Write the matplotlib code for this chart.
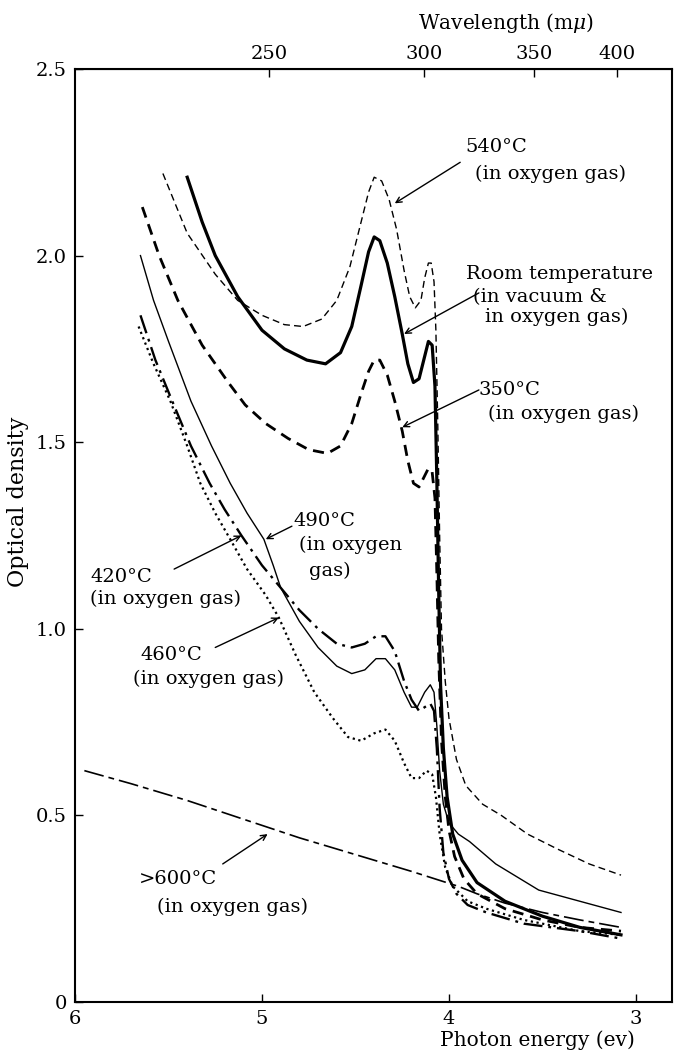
import matplotlib
matplotlib.use("Agg")
import matplotlib.pyplot as plt

plt.rcParams['font.family'] = ['DejaVu Serif']
plt.rcParams['mathtext.fontset'] = 'dejavuserif'

# Photon energy (ev) and optical density
e_540 = [5.53, 5.40, 5.25, 5.13, 5.00, 4.88, 4.78, 4.68, 4.60, 4.53, 4.47, 4.43, 4.40, 4.36,
         4.32, 4.28, 4.24, 4.21, 4.18, 4.15, 4.13, 4.11, 4.095, 4.08, 4.07, 4.06, 4.05, 4.04,
         4.02, 4.00, 3.96, 3.91, 3.82, 3.72, 3.58, 3.42, 3.25, 3.08]
od_540 = [2.22, 2.06, 1.95, 1.88, 1.84, 1.815, 1.81, 1.83, 1.88, 1.97, 2.09, 2.17, 2.21, 2.20,
          2.15, 2.07, 1.96, 1.89, 1.86, 1.88, 1.94, 1.98, 1.98, 1.93, 1.80, 1.55, 1.25, 1.00,
          0.86, 0.76, 0.65, 0.58, 0.53, 0.50, 0.45, 0.41, 0.37, 0.34]

e_room = [5.40, 5.32, 5.25, 5.13, 5.00, 4.88, 4.76, 4.66, 4.58, 4.52, 4.47, 4.43, 4.40, 4.37,
          4.33, 4.29, 4.25, 4.22, 4.19, 4.16, 4.13, 4.11, 4.09, 4.075, 4.065, 4.055, 4.045,
          4.03, 4.01, 3.98, 3.93, 3.85, 3.70, 3.50, 3.30, 3.08]
od_room = [2.21, 2.09, 2.00, 1.89, 1.80, 1.75, 1.72, 1.71, 1.74, 1.81, 1.92, 2.01, 2.05, 2.04,
           1.98, 1.89, 1.79, 1.71, 1.66, 1.67, 1.73, 1.77, 1.76, 1.65, 1.40, 1.10, 0.85,
           0.68, 0.55, 0.45, 0.38, 0.32, 0.27, 0.23, 0.20, 0.18]

e_350 = [5.64, 5.55, 5.45, 5.32, 5.18, 5.09, 4.98, 4.86, 4.75, 4.65, 4.58, 4.52, 4.47, 4.43,
         4.40, 4.37, 4.33, 4.29, 4.25, 4.22, 4.19, 4.16, 4.13, 4.11, 4.09, 4.075, 4.065, 4.055,
         4.04, 4.02, 4.00, 3.97, 3.92, 3.85, 3.70, 3.50, 3.30, 3.08]
od_350 = [2.13, 2.00, 1.88, 1.76, 1.66, 1.60, 1.55, 1.51, 1.48, 1.47, 1.49, 1.55, 1.63, 1.69,
          1.72, 1.72, 1.68, 1.61, 1.53, 1.45, 1.39, 1.38, 1.41, 1.43, 1.42, 1.35, 1.15, 0.92,
          0.70, 0.55, 0.46, 0.39, 0.33, 0.29, 0.25, 0.22, 0.20, 0.19]

e_490 = [5.65, 5.58, 5.50, 5.44, 5.38, 5.27, 5.17, 5.08, 4.99, 4.94, 4.90, 4.80, 4.70, 4.60,
         4.52, 4.45, 4.39, 4.34, 4.29, 4.24, 4.20, 4.17, 4.13, 4.10, 4.08, 4.065, 4.05, 4.03,
         4.00, 3.95, 3.89, 3.75, 3.52, 3.30, 3.08]
od_490 = [2.00, 1.88, 1.77, 1.69, 1.61, 1.49, 1.39, 1.31, 1.24, 1.17, 1.11, 1.02, 0.95, 0.90,
          0.88, 0.89, 0.92, 0.92, 0.89, 0.83, 0.79, 0.79, 0.83, 0.85, 0.83, 0.74, 0.62, 0.53,
          0.48, 0.45, 0.43, 0.37, 0.30, 0.27, 0.24]

e_420 = [5.65, 5.57, 5.48, 5.38, 5.28, 5.20, 5.11, 5.00, 4.90, 4.80, 4.70, 4.60, 4.52, 4.45,
         4.39, 4.34, 4.29, 4.24, 4.20, 4.16, 4.13, 4.10, 4.08, 4.065, 4.05, 4.03, 4.00, 3.96,
         3.90, 3.80, 3.60, 3.30, 3.08]
od_420 = [1.84, 1.72, 1.61, 1.49, 1.39, 1.32, 1.25, 1.17, 1.11, 1.05, 1.00, 0.96, 0.95, 0.96,
          0.98, 0.98, 0.94, 0.86, 0.81, 0.78, 0.79, 0.80, 0.78, 0.68, 0.52, 0.40, 0.33, 0.29,
          0.26, 0.24, 0.21, 0.19, 0.17]

e_460 = [5.66, 5.58, 5.49, 5.40, 5.33, 5.25, 5.17, 5.08, 4.98, 4.91, 4.82, 4.72, 4.62, 4.54,
         4.47, 4.40, 4.34, 4.29, 4.24, 4.20, 4.16, 4.12, 4.09, 4.07, 4.05, 4.02, 3.98, 3.90,
         3.80, 3.60, 3.30, 3.08]
od_460 = [1.81, 1.71, 1.61, 1.49, 1.39, 1.31, 1.24, 1.16, 1.09, 1.03, 0.93, 0.83, 0.76, 0.71,
          0.70, 0.72, 0.73, 0.70, 0.64, 0.60, 0.60, 0.62, 0.61, 0.55, 0.45, 0.36, 0.31, 0.27,
          0.25, 0.22, 0.19, 0.18]

e_600 = [5.95, 5.70, 5.40, 5.10, 4.80, 4.50, 4.20, 3.95, 3.85, 3.70, 3.50, 3.30, 3.08]
od_600 = [0.62, 0.585, 0.54, 0.49, 0.44, 0.395, 0.35, 0.31, 0.29, 0.265, 0.24, 0.22, 0.20]

energy_ticks = [6, 5, 4, 3]
od_ticks = [0, 0.5, 1.0, 1.5, 2.0, 2.5]
od_ticklabels = ["0", "0.5", "1.0", "1.5", "2.0", "2.5"]
wavelength_ticks = [250, 300, 350, 400]

fig = plt.figure(figsize=(6.74, 10.58), dpi=100)
ax = fig.add_axes([0.1113, 0.0529, 0.8858, 0.8819])

k = 'black'
ax.plot(e_540, od_540, color=k, lw=1.0, ls=(0, (5, 3)))
ax.plot(e_room, od_room, color=k, lw=2.3, ls='-')
ax.plot(e_350, od_350, color=k, lw=2.0, ls=(0, (4, 2.5)))
ax.plot(e_490, od_490, color=k, lw=1.0, ls='-')
ax.plot(e_420, od_420, color=k, lw=1.7, ls=(0, (8, 2.5, 1.2, 2.5)))
ax.plot(e_460, od_460, color=k, lw=1.6, ls=(0, (1, 1.6)))
ax.plot(e_600, od_600, color=k, lw=1.2, ls=(0, (12, 3, 3.5, 3)))

ax.set_xlim(6, 2.807)
ax.set_ylim(0, 2.5)
ax.set_xticks(energy_ticks)
ax.set_xticklabels([str(t) for t in energy_ticks])
ax.set_yticks(od_ticks)
ax.set_yticklabels(od_ticklabels)
ax.tick_params(direction='in', length=6, width=1.0, labelsize=14, pad=6)
for s in ax.spines.values():
    s.set_linewidth(1.5)

top = ax.secondary_xaxis('top', functions=(lambda e: 1240.0 / e, lambda w: 1240.0 / w))
top.set_xticks(wavelength_ticks)
top.tick_params(direction='in', length=6, width=1.0, labelsize=14, pad=4)

fig.text(0.751, 0.978, r'Wavelength (m$\mu$)', fontsize=14.5, ha='center', va='center')
fig.text(0.797, 0.017, 'Photon energy (ev)', fontsize=14.5, ha='center', va='center')
fig.text(0.027, 0.526, 'Optical density', fontsize=16, ha='center', va='center',
         rotation=90)

fs = 14
notes = [
    ("540°C", 3.91, 2.29), ("(in oxygen gas)", 3.86, 2.22),
    ("Room temperature", 3.91, 1.95), ("(in vacuum &", 3.87, 1.89), ("in oxygen gas)", 3.81, 1.835),
    ("350°C", 3.84, 1.64), ("(in oxygen gas)", 3.79, 1.575),
    ("490°C", 4.83, 1.29), ("(in oxygen", 4.80, 1.225), ("gas)", 4.75, 1.155),
    ("420°C", 5.92, 1.14), ("(in oxygen gas)", 5.92, 1.08),
    ("460°C", 5.65, 0.93), ("(in oxygen gas)", 5.69, 0.865),
    (">600°C", 5.66, 0.33), ("(in oxygen gas)", 5.56, 0.255),
]
for txt, x, y in notes:
    ax.text(x, y, txt, fontsize=fs, ha='left', va='center')

arrows = [
    ((3.94, 2.25), (4.29, 2.14)),
    ((3.84, 1.90), (4.24, 1.79)),
    ((3.84, 1.64), (4.25, 1.54)),
    ((4.84, 1.275), (4.98, 1.24)),
    ((5.47, 1.16), (5.11, 1.25)),
    ((5.25, 0.95), (4.91, 1.03)),
    ((5.21, 0.37), (4.97, 0.45)),
]
for start, tip in arrows:
    ax.annotate('', xy=tip, xytext=start,
                arrowprops=dict(arrowstyle='->', color=k, lw=1.0, shrinkA=0, shrinkB=0))

fig.savefig('out.png', dpi=100)
